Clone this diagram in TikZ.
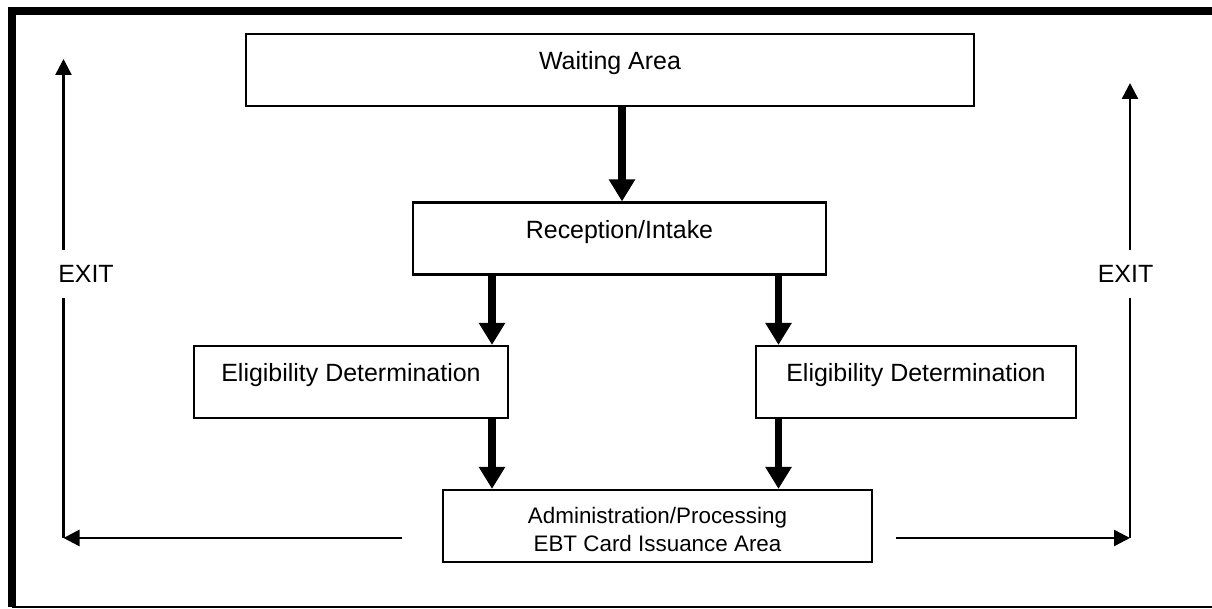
\documentclass[tikz,border=0pt]{standalone}
\usepackage{fontspec}
\setmainfont{Liberation Sans}
\usetikzlibrary{positioning, arrows.meta}

\begin{document}
\begin{tikzpicture}[font=\fontsize{14.2}{17}\selectfont,
                box/.style={draw, line width=1.2pt, minimum height=1.44cm, inner sep=0pt},
                area/.style={box, text height=0.4cm, text depth=0.4cm},
                flow/.style={line width=4.5pt, -{Triangle[width=0.5cm, length=0.44cm]}},
                exitline/.style={line width=1.4pt},
                exitarrow/.style={exitline, -{Triangle[width=0.32cm, length=0.32cm]}}]
                \useasboundingbox (0,0) rectangle (24.24,12.18);

                % Frame
                \draw[line width=4.5pt] (0.24,0.04) -- (0.24,11.96) -- (24.5,11.96);
                \draw[line width=1.1pt] (0.24,0.04) -- (24.5,0.04);

                % Areas
                \node[area, minimum width=14.56cm] (wait) at (12.2,10.78) {Waiting Area};
                \node[area, minimum width=8.26cm] (recep) at (12.39,7.41) {Reception/Intake};
                \node[area, minimum width=6.28cm] (eligL) at (7.02,4.54) {Eligibility Determination};
                \node[area, minimum width=6.4cm] (eligR) at (18.32,4.54) {Eligibility Determination};
                \node[box, minimum width=8.58cm, align=center, font=\fontsize{12.75}{15.9}\selectfont] (admin) at (13.15,1.66) {\\[-0.1cm]Administration/Processing\\EBT Card Issuance Area};

                % Flow
                \coordinate (colM) at (12.44,0);
                \coordinate (colL) at (9.84,0);
                \coordinate (colR) at (15.57,0);
                \draw[flow] (wait.south -| colM) -- (recep.north -| colM);
                \draw[flow] (recep.south -| colL) -- (eligL.north -| colL);
                \draw[flow] (recep.south -| colR) -- (eligR.north -| colR);
                \draw[flow] (eligL.south -| colL) -- (admin.north -| colL);
                \draw[flow] (eligR.south -| colR) -- (admin.north -| colR);

                % Exits
                \node[minimum height=0.96cm, inner sep=0pt] (exitL) at (1.72,6.7) {EXIT};
                \node[minimum height=0.96cm, inner sep=0pt] (exitR) at (22.51,6.7) {EXIT};
                \coordinate (cornerL) at (1.27,1.42);
                \coordinate (topL) at (1.27,11.0);
                \coordinate (cornerR) at (22.6,1.42);
                \coordinate (topR) at (22.6,10.52);
                \draw[exitarrow] ([xshift=-0.8cm]admin.west |- cornerL) -- (cornerL);
                \draw[exitline] (cornerL) -- (cornerL |- exitL.south);
                \draw[exitarrow] (cornerL |- exitL.north) -- (topL);
                \draw[exitarrow] ([xshift=0.46cm]admin.east |- cornerR) -- (cornerR);
                \draw[exitline] (cornerR) -- (cornerR |- exitR.south);
                \draw[exitarrow] (cornerR |- exitR.north) -- (topR);
\end{tikzpicture}
\end{document}
